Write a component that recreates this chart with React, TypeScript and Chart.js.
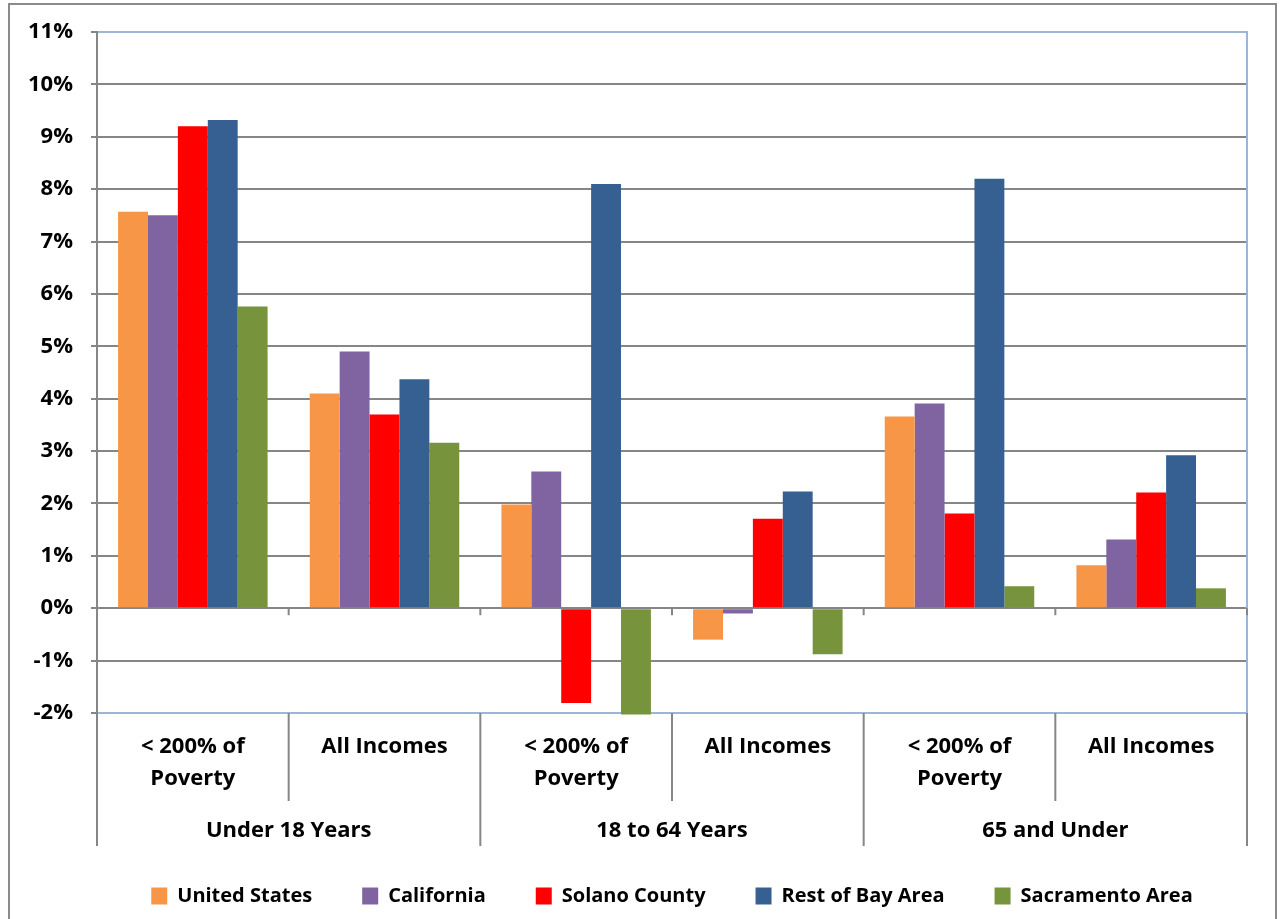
import React, { useEffect, useRef } from "react";
import { Chart, registerables } from "chart.js";

Chart.register(...registerables);

const subCategories: string[][] = [
  ["< 200% of", "Poverty"],
  ["All Incomes"],
  ["< 200% of", "Poverty"],
  ["All Incomes"],
  ["< 200% of", "Poverty"],
  ["All Incomes"],
];
const groupLabels = ["Under 18 Years", "18 to 64 Years", "65 and Under"];

const unitedStates = [7.57, 4.1, 1.98, -0.6, 3.66, 0.82];
const california = [7.5, 4.9, 2.61, -0.1, 3.91, 1.31];
const solanoCounty = [9.2, 3.7, -1.81, 1.71, 1.81, 2.21];
const restOfBayArea = [9.32, 4.37, 8.1, 2.23, 8.2, 2.92];
const sacramentoArea = [5.76, 3.16, -2.03, -0.88, 0.42, 0.38];

const yTicks = [-2, -1, 0, 1, 2, 3, 4, 5, 6, 7, 8, 9, 10, 11];

const FONT = "'Open Sans', Lato, sans-serif";
const FS = 22;
const GRID = "#868686";
const BLUE_EDGE = "#9DB6D8";

const decorPlugin = {
  id: "decor",
  afterDraw(chart: any) {
    const { ctx, chartArea, scales } = chart;
    const x = scales.x;
    const y = scales.y;
    const n = subCategories.length;
    const step = (x.right - x.left) / n;
    const zero = y.getPixelForValue(0);
    ctx.save();
    ctx.strokeStyle = GRID;
    ctx.lineWidth = 2;
    for (let i = 0; i <= n; i++) {
      const px = x.left + step * i;
      ctx.beginPath();
      ctx.moveTo(px, zero);
      ctx.lineTo(px, zero + 7);
      ctx.stroke();
      const bottom = i % 2 === 0 ? chartArea.bottom + 133 : chartArea.bottom + 88;
      ctx.beginPath();
      ctx.moveTo(px, chartArea.bottom);
      ctx.lineTo(px, bottom);
      ctx.stroke();
    }
    ctx.strokeStyle = "#8a8a8a";
    ctx.lineWidth = 2;
    ctx.strokeRect(9, 4, 1267, 930);
    ctx.restore();
  },
};

export default function App() {
  const ref = useRef<HTMLCanvasElement | null>(null);
  useEffect(() => {
    if (!ref.current) return;
    const mk = (label: string, data: number[], color: string) => ({
      label,
      data,
      backgroundColor: color,
      borderWidth: 0,
      categoryPercentage: 0.78,
      barPercentage: 1,
      clip: false,
    });
    const chart = new Chart(ref.current, {
      type: "bar",
      data: {
        labels: subCategories,
        datasets: [
          mk("United States", unitedStates, "#F79646"),
          mk("California", california, "#8064A2"),
          mk("Solano County", solanoCounty, "#FF0000"),
          mk("Rest of Bay Area", restOfBayArea, "#376092"),
          mk("Sacramento Area", sacramentoArea, "#77933C"),
        ],
      },
      options: {
        animation: false,
        responsive: false,
        maintainAspectRatio: false,
        layout: { padding: { left: 0, right: 0, top: 32, bottom: 3 } },
        plugins: {
          tooltip: { enabled: false },
          legend: {
            position: "bottom",
            fullSize: false,
            labels: {
              boxWidth: 16,
              boxHeight: 17,
              padding: 50,
              color: "#000",
              font: { family: FONT, size: 20, weight: "bold", lineHeight: 1.4 },
            },
          },
        },
        scales: {
          x: {
            type: "category",
            position: "bottom",
            weight: 0,
            offset: true,
            grid: { display: false, drawTicks: false },
            border: { display: false },
            ticks: {
              color: "#000",
              padding: 18,
              maxRotation: 0,
              autoSkip: false,
              font: { family: FONT, size: FS, weight: "bold", lineHeight: 1.45 },
            },
            afterFit: (s: any) => {
              s.height = 88;
            },
          },
          x2: {
            type: "category",
            position: "bottom",
            weight: 1,
            labels: groupLabels,
            offset: true,
            grid: { display: false, drawTicks: false },
            border: { display: false },
            ticks: {
              color: "#000",
              mirror: true,
              padding: -43,
              maxRotation: 0,
              autoSkip: false,
              font: { family: FONT, size: FS, weight: "bold", lineHeight: 1.2 },
            },
            afterFit: (s: any) => {
              s.height = 35;
            },
          },
          y: {
            min: -2,
            max: 11,
            position: "left",
            afterBuildTicks: (s: any) => {
              s.ticks = yTicks.map((v) => ({ value: v }));
            },
            grid: {
              color: (c: any) =>
                c.tick && (c.tick.value === 11 || c.tick.value === -2) ? BLUE_EDGE : GRID,
              tickColor: GRID,
              lineWidth: 2,
              drawTicks: true,
              tickLength: 6,
            },
            border: { display: true, color: GRID, width: 2 },
            ticks: {
              color: "#000",
              padding: 18,
              font: { family: FONT, size: FS, weight: "bold" },
              callback: (v: any) => `${v}%`,
            },
            afterFit: (s: any) => {
              s.width = 97;
            },
          },
          yRight: {
            position: "right",
            min: -2,
            max: 11,
            grid: { display: false, drawTicks: false },
            ticks: { display: false },
            border: { display: true, color: BLUE_EDGE, width: 2 },
            afterFit: (s: any) => {
              s.width = 33;
            },
          },
        },
      },
      plugins: [decorPlugin],
    });
    return () => chart.destroy();
  }, []);
  return (
    <div style={{ position: "fixed", left: 0, top: 0, width: 1280, height: 919, background: "#fff" }}>
      <canvas ref={ref} width={1280} height={919} style={{ display: "block" }} />
    </div>
  );
}
